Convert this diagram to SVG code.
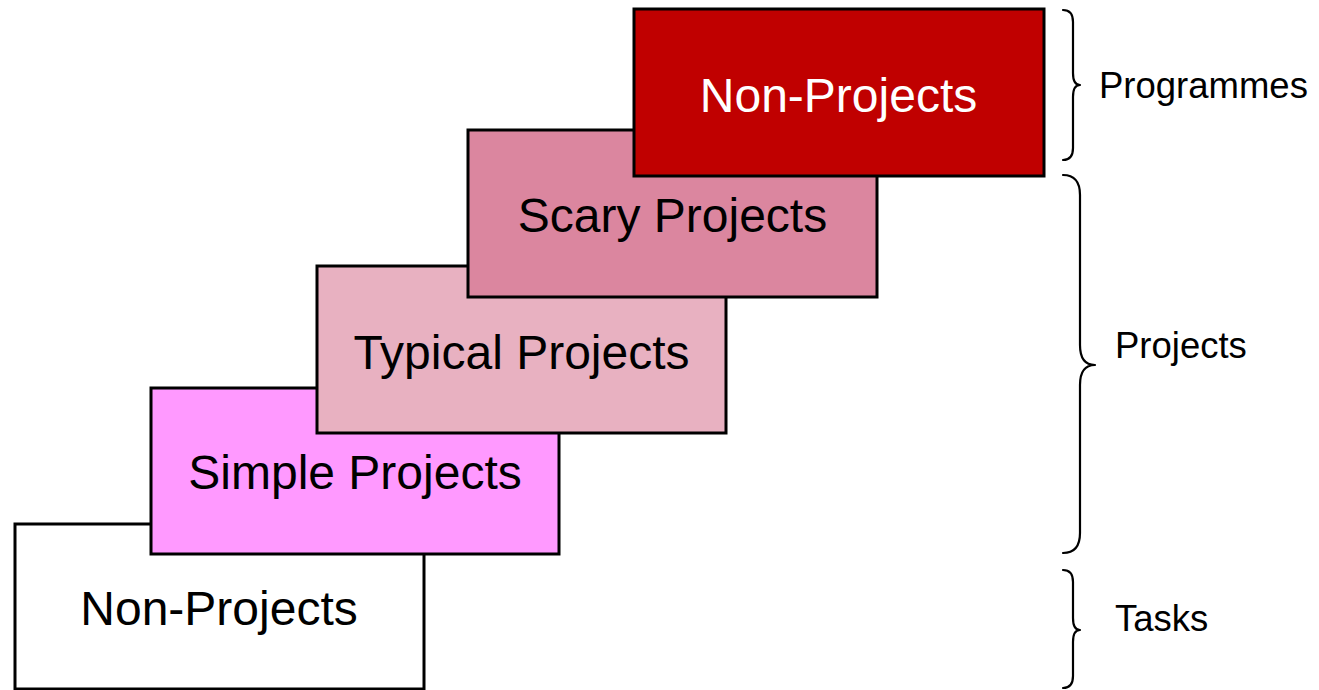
<svg xmlns="http://www.w3.org/2000/svg" width="1319" height="690" viewBox="0 0 1319 690">
  <style>
    .box { stroke: #000; stroke-width: 3; }
    .lbl { font-family: "Liberation Sans", Arial, sans-serif; font-size: 48px; text-anchor: middle; fill: #000; }
    .side { font-family: "Liberation Sans", Arial, sans-serif; font-size: 36.5px; fill: #000; }
    .brace { fill: none; stroke: #000; stroke-width: 2.2; stroke-linecap: round; stroke-linejoin: round; }
  </style>
  <rect width="1319" height="690" fill="#fff"/>

  <!-- steps, lowest first so each higher step overlaps the one beneath -->
  <g id="step-non-projects-low">
    <rect class="box" x="15" y="524" width="409" height="165" fill="#fff"/>
    <text class="lbl" x="219" y="625">Non-Projects</text>
  </g>
  <g id="step-simple">
    <rect class="box" x="151" y="388" width="408" height="166" fill="#FF99FF"/>
    <text class="lbl" x="355" y="489">Simple Projects</text>
  </g>
  <g id="step-typical">
    <rect class="box" x="317" y="266" width="409" height="167" fill="#E8B1C1"/>
    <text class="lbl" x="521.5" y="369">Typical Projects</text>
  </g>
  <g id="step-scary">
    <rect class="box" x="468" y="130" width="409" height="167" fill="#DB869F"/>
    <text class="lbl" x="672.5" y="232">Scary Projects</text>
  </g>
  <g id="step-non-projects-high">
    <rect class="box" x="634" y="9" width="410" height="167" fill="#C00000"/>
    <text class="lbl" x="838.5" y="112" style="fill:#fff">Non-Projects</text>
  </g>

  <!-- braces grouping the steps -->
  <g id="braces">
    <path class="brace" d="M1063,10 Q1073,10 1073,22 L1073,73 Q1073,85 1080,85 Q1073,85 1073,97 L1073,148 Q1073,160 1063,160"/>
    <path class="brace" d="M1063,175 Q1080,175 1080,195 L1080,345 Q1080,365 1095,365 Q1080,365 1080,385 L1080,533 Q1080,553 1063,553"/>
    <path class="brace" d="M1063,570 Q1073,570 1073,582 L1073,618 Q1073,630 1080,630 Q1073,630 1073,642 L1073,676 Q1073,688 1063,688"/>
  </g>

  <g id="brace-labels">
    <text class="side" x="1099" y="98">Programmes</text>
    <text class="side" x="1115" y="358">Projects</text>
    <text class="side" x="1115" y="631">Tasks</text>
  </g>
</svg>
